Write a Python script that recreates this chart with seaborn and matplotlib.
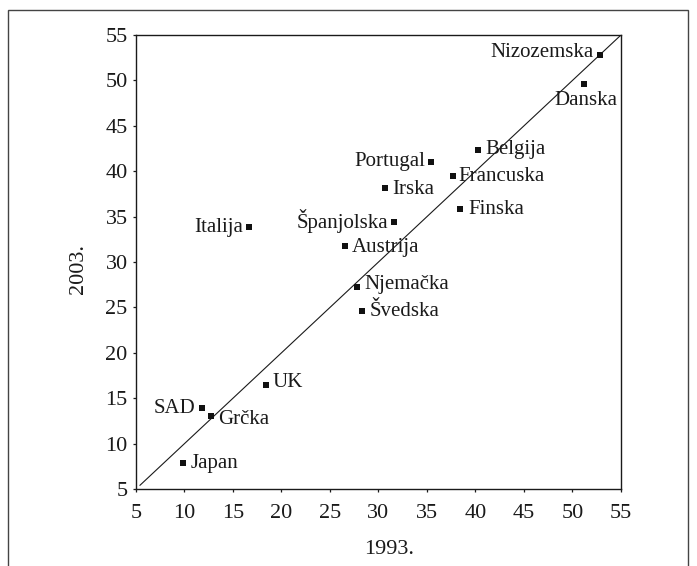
import matplotlib
matplotlib.use("Agg")
import matplotlib.pyplot as plt
import seaborn as sns
import pandas as pd
from matplotlib.patches import Rectangle

countries = ["Nizozemska", "Danska", "Belgija", "Portugal", "Francuska", "Irska",
             "Finska", "Španjolska", "Italija", "Austrija", "Njemačka", "Švedska",
             "UK", "SAD", "Grčka", "Japan"]
val_1993 = [52.8, 51.2, 40.3, 35.4, 37.7, 30.7, 38.4, 31.6, 16.65, 26.5, 27.75, 28.3,
            18.4, 11.8, 12.7, 9.8]
val_2003 = [52.8, 49.6, 42.3, 41.0, 39.5, 38.2, 35.8, 34.4, 33.8, 31.75, 27.3, 24.6,
            16.5, 13.9, 13.0, 7.9]
ticks = [5, 10, 15, 20, 25, 30, 35, 40, 45, 50, 55]
diag = [5.4, 55]
xlabel = "1993."
ylabel = "2003."

# label placement (pixels offset, alignment)
label_style = {
    "Nizozemska": (-6, 2, "right"),
    "Danska": (2, -16, "center"),
    "Belgija": (7, 1, "left"),
    "Portugal": (-6, 1, "right"),
    "Francuska": (5, -1, "left"),
    "Irska": (7, -1.5, "left"),
    "Finska": (8, 0, "left"),
    "Španjolska": (-6, 1, "right"),
    "Italija": (-6, 0, "right"),
    "Austrija": (7, -1.5, "left"),
    "Njemačka": (8, 2, "left"),
    "Švedska": (8, 0, "left"),
    "UK": (7, 2, "left"),
    "SAD": (-7, 0, "right"),
    "Grčka": (7, -3, "left"),
    "Japan": (8, -1, "left"),
}

df = pd.DataFrame({"country": countries, "x": val_1993, "y": val_2003})

sns.set_style("ticks")
plt.rcParams["font.family"] = ["Liberation Serif", "DejaVu Serif"]
plt.rcParams["text.color"] = "#1a1a1a"

fig = plt.figure(figsize=(6.97, 5.66), dpi=100)
ax = fig.add_axes([136 / 697, 1 - 489 / 566, (621 - 136) / 697, (489 - 35) / 566])

ax.plot(diag, diag, color="#1a1a1a", lw=0.8, zorder=1)
sns.scatterplot(data=df, x="x", y="y", marker="s", s=20, color="#111111",
                linewidth=0, ax=ax, zorder=3)

pt = 0.72
for c, xv, yv in zip(countries, val_1993, val_2003):
    dx, dy, ha = label_style[c]
    ax.annotate(c, (xv, yv), xytext=(dx * pt, dy * pt), textcoords="offset points",
                ha=ha, va="center", fontsize=15, color="#1a1a1a")

ax.set_xlim(5, 55)
ax.set_ylim(5, 55)
ax.set_xticks(ticks)
ax.set_yticks(ticks)
ax.set_xticklabels([str(t) for t in ticks])
ax.set_yticklabels([str(t) for t in ticks])
ax.tick_params(axis="both", labelsize=16, length=2.5, width=0.9, colors="#1a1a1a",
               direction="out")
ax.tick_params(axis="x", pad=8)
ax.tick_params(axis="y", pad=3.5)
for s in ax.spines.values():
    s.set_visible(True)
    s.set_color("#1a1a1a")
    s.set_linewidth(1.0)

ax.set_xlabel(xlabel, fontsize=16, color="#1a1a1a")
ax.set_ylabel(ylabel, fontsize=16, color="#1a1a1a")
ax.xaxis.set_label_coords(0.522, -0.112)
ax.yaxis.set_label_coords(-0.099, 0.485)

# outer frame
fig.patches.append(Rectangle((8 / 697, -0.1), (688 - 8) / 697, 0.1 + (566 - 10) / 566,
                             transform=fig.transFigure, fill=False,
                             edgecolor="#444444", lw=1.0))

fig.savefig("out.png", dpi=100)
